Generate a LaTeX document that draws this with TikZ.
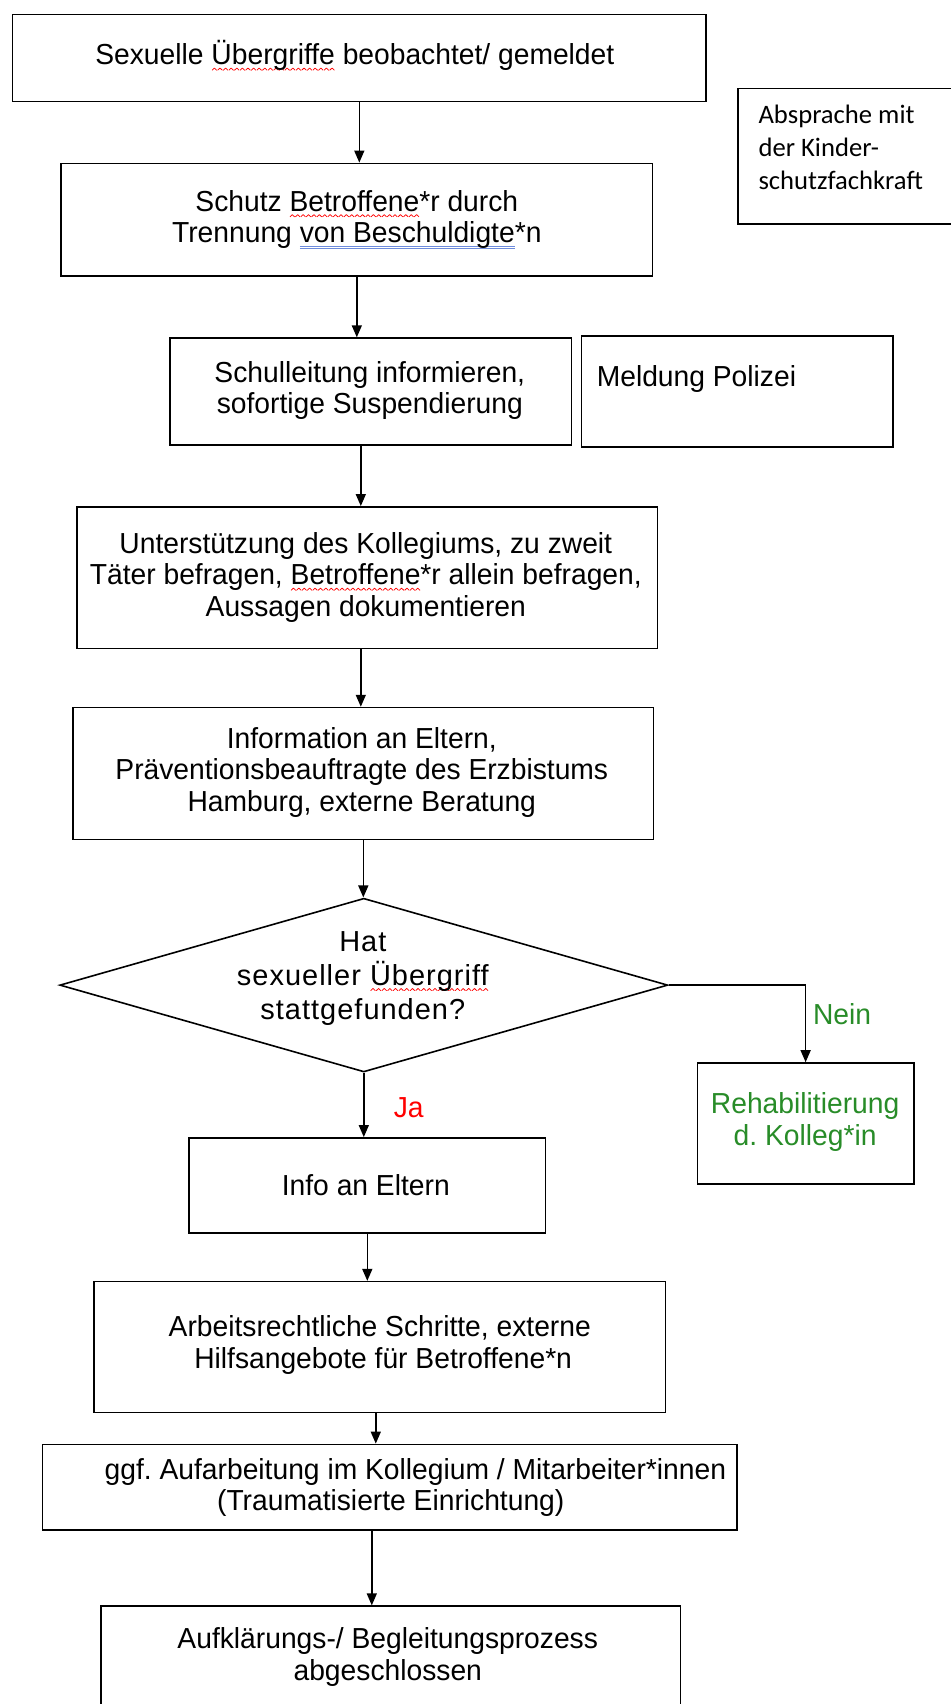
\documentclass[tikz,border=0pt]{standalone}
\usepackage{fontspec}
\setmainfont{Liberation Sans}[FakeStretch=0.975]
\newfontfamily\widef{Liberation Sans}[LetterSpace=3.5]
\newfontfamily\calib{Carlito}
\usetikzlibrary{arrows.meta,shapes.geometric,fit}
\definecolor{okgreen}{RGB}{40,140,40}
\definecolor{spellblue}{RGB}{110,140,220}
\newsavebox\wavebox
\newsavebox\wordbox
\newcommand{\rsq}[1]{\sbox\wordbox{#1}\rlap{\raisebox{-4.5pt}[0pt][0pt]{\hbox to \wd\wordbox{\xleaders\copy\wavebox\hfil}}}\usebox\wordbox}
\newcommand{\buu}[1]{\sbox\wordbox{#1}\rlap{\textcolor{spellblue}{\rule[-3.5pt]{\wd\wordbox}{0.7pt}}}\rlap{\textcolor{spellblue}{\rule[-5pt]{\wd\wordbox}{0.7pt}}}\usebox\wordbox}
\newcommand{\mainf}{\frenchspacing\fontsize{21.75pt}{23.6pt}\selectfont}
\newcommand{\diaf}{\frenchspacing\widef\fontsize{21.75pt}{25.5pt}\selectfont}
\newcommand{\absf}{\calib\fontsize{20pt}{24.75pt}\selectfont}
\begin{document}
\begin{tikzpicture}[x=0.75pt,y=-0.75pt,
  box/.style={draw, line width=1.2pt, inner sep=0pt},
  txt/.style={inner sep=0pt, align=center, font=\mainf},
  arr/.style={-{Triangle[length=9pt,width=7.5pt]}, line width=1.1pt, color=black}]
\global\sbox\wavebox{\color{red}\begin{pgfpicture}\pgfsetlinewidth{0.55pt}\pgfsetroundjoin
\pgfpathmoveto{\pgfpoint{0pt}{0pt}}\pgfpathlineto{\pgfpoint{1.75pt}{1.7pt}}\pgfpathlineto{\pgfpoint{3.5pt}{0pt}}\pgfusepath{stroke}\end{pgfpicture}}
\fill[white] (0,0) rectangle (952,1704);
\useasboundingbox (0,0) rectangle (952,1704);

\coordinate (x3) at (361,0);
\coordinate (x8) at (376,0);
\coordinate (x9) at (372,0);

\node[box, fit={(12,12) (707,99)}] (b1) {};
\node[txt] (t1) at (355,53) {Sexuelle \rsq{Übergriffe} beobachtet/ gemeldet};

\node[box, fit={(739,86) (960,222)}] (abs) {};
\node[font=\absf, align=left, anchor=west, inner sep=0pt] (abst) at (759,145) {Absprache mit\\der Kinder-\\schutzfachkraft};

\node[box, fit={(61,161) (653,274)}] (b2) {};
\node[txt] (t2) at (357,217.5) {Schutz \rsq{Betroffene}*r durch\\Trennung \buu{von Beschuldigte}*n};

\node[box, fit={(170,336) (572,443)}] (b3) {};
\node[txt] (t3) at (370,388.5) {Schulleitung informieren,\\sofortige Suspendierung};

\node[box, fit={(582,334) (894,445)}] (pol) {};
\node[txt, anchor=west] (polt) at (597,377) {Meldung Polizei};

\node[box, fit={(77,505) (658,647)}] (b4) {};
\node[txt] (t4) at (366,575.5) {Unterstützung des Kollegiums, zu zweit\\Täter befragen, \rsq{Betroffene}*r allein befragen,\\Aussagen dokumentieren};

\node[box, fit={(73,706) (654,838)}] (b5) {};
\node[txt] (t5) at (362,771) {Information an Eltern,\\Präventionsbeauftragte des Erzbistums\\Hamburg, externe Beratung};

\node[draw, diamond, line width=1.2pt, minimum width=456.75pt, minimum height=130.5pt, inner sep=0pt] (dia) at (364,984) {};
\node[txt, font=\diaf] (diat) at (363,977) {Hat\\sexueller \rsq{Übergriff}\\stattgefunden?};

\node[box, fit={(698,1062) (915,1183)}] (rehab) {};
\node[txt, text=okgreen] (rehabt) at (806,1121) {Rehabilitierung\\d. Kolleg*in};

\node[box, fit={(189,1137) (546,1232)}] (info) {};
\node[txt] (infot) at (366,1184) {Info an Eltern};

\node[box, fit={(94,1281) (666,1412)}] (arb) {};
\node[txt] (arbt) at (380,1344.5) {Arbeitsrechtliche Schritte, externe\\\hspace*{5pt}Hilfsangebote für Betroffene*n};

\node[box, fit={(42,1444) (738,1530)}] (ggf) {};
\node[txt] (ggft) at (391,1487) {\hspace*{37pt}ggf. Aufarbeitung im Kollegium / Mitarbeiter*innen\\(Traumatisierte Einrichtung)};

\node[box, fit={(101,1606) (681,1712)}] (fin) {};
\node[txt] (fint) at (388,1657) {Aufklärungs-/ Begleitungsprozess\\abgeschlossen};

\node[txt, text=okgreen] (nein) at (843,1013) {Nein};
\node[txt, text=red] (ja) at (409,1107) {Ja};

\draw[arr] (b1.south) -- (b1.south |- b2.north);
\draw[arr] (b2.south) -- (b2.south |- b3.north);
\draw[arr] (b3.south -| x3) -- (b4.north -| x3);
\draw[arr] (b4.south -| x3) -- (b5.north -| x3);
\draw[arr] (b5.south) -- (b5.south |- dia.north);
\draw[arr] (dia.east) -| (rehab.north);
\draw[arr] (dia.south) -- (dia.south |- info.north);
\draw[arr] (info.south) -- (info.south |- arb.north);
\draw[arr] (arb.south -| x8) -- (ggf.north -| x8);
\draw[arr] (ggf.south -| x9) -- (fin.north -| x9);
\end{tikzpicture}
\end{document}
